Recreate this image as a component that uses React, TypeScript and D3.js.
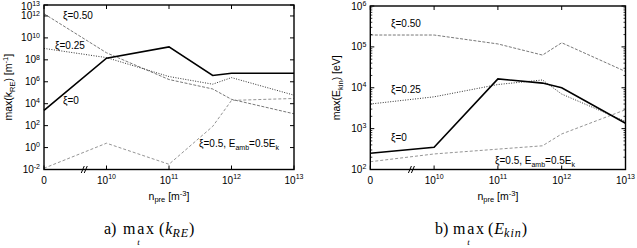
import * as d3 from 'd3'

// densities n_pre [m^-3]; 0 is drawn left of the axis break
const nPre = [0, 1e10, 1e11, 5e11, 1e12, 1e13]
const xTickVals = [0, 1e10, 1e11, 1e12, 1e13]

// panel a) max_t(k_RE) [m^-1]
const kXi0 = [2.5e3, 1.4e8, 1.5e9, 3.7e6, 6e6, 6e6]
const kXi050 = [1.6e12, 4.4e8, 1.6e6, 2.2e5, 2.5e4, 1.2e3]
const kXi025 = [1.1e9, 1.6e8, 3e6, 6e5, 2.4e6, 6e4]
const kAmb = [1.3e-2, 2.5, 0.03, 85, 2e4, 3e4]
const kExponents = [-2, 0, 2, 4, 6, 8, 10, 12, 13]

// panel b) max_t(E_kin) [eV]
const eXi0 = [250, 350, 1.65e4, 1.3e4, 1e4, 1.35e3]
const eXi050 = [1.95e5, 1.95e5, 1.18e5, 6.3e4, 1.26e5, 2.5e4]
const eXi025 = [4e3, 6e3, 1.2e4, 1.55e4, 7e3, 1.5e3]
const eAmb = [155, 240, 315, 380, 740, 2.9e3]
const eExponents = [2, 3, 4, 5, 6]

const FONT = '"Liberation Sans", Arial, sans-serif'
const SERIF = '"Liberation Serif", "DejaVu Serif", serif'

const STYLE = {
  xi0: { stroke: '#000', width: 1.6, dash: null },
  xi050: { stroke: '#555', width: 0.8, dash: '3,1.5' },
  xi025: { stroke: '#333', width: 1, dash: '1,1.5' },
  amb: { stroke: '#888', width: 0.9, dash: '3,2' },
}

const nToPos = (n) => (n === 0 ? 9 : Math.log10(n))

function Caption({ c }) {
  return (
    <g fontFamily={SERIF} fill="#000">
      <text x={c.tagX} y={234} fontSize={16}>{c.tag}</text>
      <text x={c.maxX} y={234} fontSize={16} textLength={31} lengthAdjust="spacing">max</text>
      <text x={c.maxX + 15.5} y={244.5} fontSize={9} fontStyle="italic" textAnchor="middle">t</text>
      <text x={c.parX} y={234} fontSize={16}>
        (<tspan fontStyle="italic" dx={1}>{c.v}</tspan>
        <tspan fontStyle="italic" fontSize={12} dy={3} letterSpacing={c.subSpacing}>{c.sub}</tspan>
        <tspan dy={-3}>)</tspan>
      </text>
    </g>
  )
}

function Panel({ box, yDomain, exponents, minor, series, labels, yLabel, caption }) {
  const x = d3.scaleLinear().domain([9, 13]).range([box.x0, box.x1])
  const y = d3.scaleLog().domain(yDomain).range([box.y1, box.y0])

  const line = d3
    .line()
    .x((d) => x(nToPos(d[0])))
    .y((d) => y(d[1]))

  const minorTicks = []
  if (minor) {
    for (let e = Math.log10(yDomain[0]); e < Math.log10(yDomain[1]); e++) {
      for (let m = 2; m < 10; m++) minorTicks.push(m * Math.pow(10, e))
    }
  }

  const brk = x(9.66)

  return (
    <g>
      {series.map((s, i) => (
        <path
          key={i}
          d={line(nPre.map((n, j) => [n, s.values[j]]))}
          fill="none"
          stroke={s.style.stroke}
          strokeWidth={s.style.width}
          strokeDasharray={s.style.dash || undefined}
        />
      ))}

      {/* ticks, mirrored on all four sides */}
      {exponents.map((e) => {
        const yy = y(Math.pow(10, e))
        return (
          <g key={'y' + e}>
            <line x1={box.x0} x2={box.x0 + 4} y1={yy} y2={yy} stroke="#000" />
            <line x1={box.x1} x2={box.x1 - 4} y1={yy} y2={yy} stroke="#000" />
            <text x={box.x0 - 4} y={Math.max(yy + 3.5, 10)} fontFamily={FONT} fontSize={10} textAnchor="end">
              10<tspan fontSize={7} dy={-3.8}>{e}</tspan>
            </text>
          </g>
        )
      })}
      {minorTicks.map((v) => (
        <g key={'m' + v}>
          <line x1={box.x0} x2={box.x0 + 2} y1={y(v)} y2={y(v)} stroke="#000" strokeWidth={0.8} />
          <line x1={box.x1} x2={box.x1 - 2} y1={y(v)} y2={y(v)} stroke="#000" strokeWidth={0.8} />
        </g>
      ))}
      {xTickVals.map((n) => {
        const xx = x(nToPos(n))
        return (
          <g key={'x' + n}>
            <line x1={xx} x2={xx} y1={box.y1} y2={box.y1 - 4} stroke="#000" />
            <line x1={xx} x2={xx} y1={box.y0} y2={box.y0 + 4} stroke="#000" />
            <text x={xx} y={box.y1 + 14} fontFamily={FONT} fontSize={10} textAnchor="middle">
              {n === 0 ? (
                '0'
              ) : (
                <>
                  10<tspan fontSize={7} dy={-4.5}>{Math.round(Math.log10(n))}</tspan>
                </>
              )}
            </text>
          </g>
        )
      })}

      <rect
        x={box.x0}
        y={box.y0}
        width={box.x1 - box.x0}
        height={box.y1 - box.y0}
        fill="none"
        stroke="#000"
        strokeWidth={1.4}
      />

      {/* axis break */}
      <line x1={brk - 4} y1={box.y1 + 3.5} x2={brk - 1} y2={box.y1 - 3.5} stroke="#000" strokeWidth={1} />
      <line x1={brk - 1} y1={box.y1 + 3.5} x2={brk + 2} y2={box.y1 - 3.5} stroke="#000" strokeWidth={1} />

      {labels.map((l, i) => (
        <text key={i} x={l.x} y={l.y} fontFamily={FONT} fontSize={10} fill="#000">
          {l.text}
          {l.amb && (
            <>
              , E<tspan fontSize={7} dy={2.5}>amb</tspan>
              <tspan dy={-2.5}>=0.5E</tspan>
              <tspan fontSize={7} dy={2.5}>k</tspan>
            </>
          )}
        </text>
      ))}

      <text
        transform={`translate(${yLabel.x},${(box.y0 + box.y1) / 2}) rotate(-90)`}
        fontFamily={FONT}
        fontSize={10.5}
        textAnchor="middle"
      >
        {yLabel.main}
        <tspan fontSize={7.5} dy={2.5}>{yLabel.sub}</tspan>
        <tspan dy={-2.5}>{yLabel.rest}</tspan>
        {yLabel.sup && (
          <>
            <tspan fontSize={7.5} dy={-4}>{yLabel.sup}</tspan>
            <tspan dy={4}>]</tspan>
          </>
        )}
      </text>

      <text x={(box.x0 + box.x1) / 2} y={box.y1 + 30} fontFamily={FONT} fontSize={10.5} textAnchor="middle">
        n<tspan fontSize={7.5} dy={2.5}>pre</tspan>
        <tspan dy={-2.5}> [m</tspan>
        <tspan fontSize={7.5} dy={-4}>-3</tspan>
        <tspan dy={4}>]</tspan>
      </text>

      <Caption c={caption} />
    </g>
  )
}

export default function App() {
  return (
    <svg
      width={637}
      height={248}
      style={{ position: 'absolute', left: 0, top: 0, background: '#fff' }}
    >
      <Panel
        box={{ x0: 44, x1: 294, y0: 5, y1: 169.5 }}
        yDomain={[1e-2, 1e13]}
        exponents={kExponents}
        minor={false}
        series={[
          { values: kXi050, style: STYLE.xi050 },
          { values: kXi025, style: STYLE.xi025 },
          { values: kAmb, style: STYLE.amb },
          { values: kXi0, style: STYLE.xi0 },
        ]}
        labels={[
          { x: 63, y: 19, text: 'ξ=0.50' },
          { x: 55, y: 49, text: 'ξ=0.25' },
          { x: 63, y: 104, text: 'ξ=0' },
          { x: 199, y: 147, text: 'ξ=0.5', amb: true },
        ]}
        yLabel={{ x: 12, main: 'max(k', sub: 'RE', rest: ') [m', sup: '-1' }}
        caption={{ tagX: 104, maxX: 123, parX: 159, tag: 'a)', v: 'k', sub: 'RE', subSpacing: 1 }}
      />
      <Panel
        box={{ x0: 370.3, x1: 625.5, y0: 6, y1: 169.5 }}
        yDomain={[1e2, 1e6]}
        exponents={eExponents}
        minor={true}
        series={[
          { values: eXi050, style: STYLE.xi050 },
          { values: eXi025, style: STYLE.xi025 },
          { values: eAmb, style: STYLE.amb },
          { values: eXi0, style: STYLE.xi0 },
        ]}
        labels={[
          { x: 391, y: 27, text: 'ξ=0.50' },
          { x: 391, y: 93, text: 'ξ=0.25' },
          { x: 391, y: 141, text: 'ξ=0' },
          { x: 495, y: 164, text: 'ξ=0.5', amb: true },
        ]}
        yLabel={{ x: 340, main: 'max(E', sub: 'kin', rest: ') [eV]', sup: null }}
        caption={{ tagX: 435, maxX: 453, parX: 488, tag: 'b)', v: 'E', sub: 'kin', subSpacing: 1 }}
      />
    </svg>
  )
}
